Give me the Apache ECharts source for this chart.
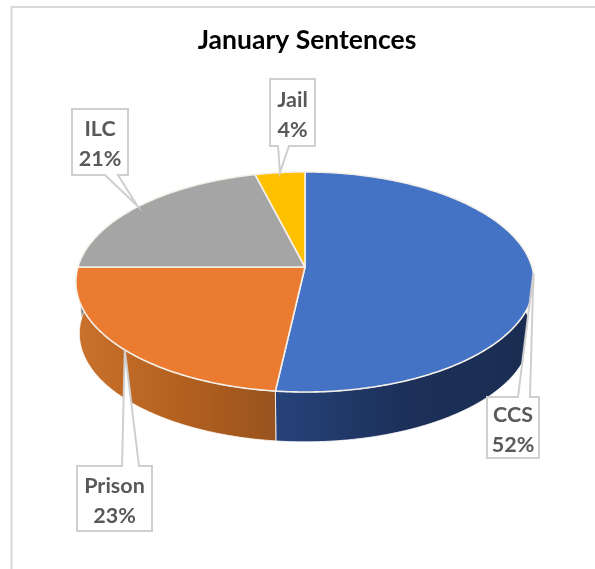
<!DOCTYPE html>
<html><head><meta charset="utf-8">
<style>html,body{margin:0;padding:0;background:#fff}#c{width:595px;height:569px}</style>
<script src="https://cdn.jsdelivr.net/npm/echarts@6/dist/echarts.min.js"></script>
</head><body><div id="c"></div>
<script>
const categories = ['CCS', 'Prison', 'ILC', 'Jail'];
const values = [51.8, 23.2, 21, 4];
const titleText = 'January Sentences';
const topColors = ['#4472C4', '#EB7B30', '#A5A5A5', '#FFC000'];
const wallColors = [
  ['#27437a', '#1c3059', '#1a2c50'],
  ['#c9722c', '#b5611f', '#98531e'],
  ['#7c7c7c', '#7c7c7c', '#7c7c7c'],
  ['#bf9000', '#bf9000', '#bf9000']
];
// callout layout: box [x0,y0,x1,y1], side of the pointer, pointer base [a,b], tip nudge
const callouts = [
  { box: [487, 397, 539, 458], side: 'top', base: [518, 530], nudge: [0, 0] },
  { box: [77, 466, 152, 531], side: 'top', base: [122, 139], nudge: [6, 4] },
  { box: [72, 109, 128, 175], side: 'bottom', base: [105, 118], nudge: [-2, 0] },
  { box: [270, 79, 315, 146], side: 'bottom', base: [278, 289], nudge: [0, 0] }
];
// projected pie geometry
const apex = [305, 267], R = 227, tilt = 108, persp = 0.136;
const depth = 52, bottomScale = 0.985;
const total = values.reduce((a, b) => a + b, 0);

function project(theta, scale, dy) {
  const x = Math.sin(theta) * scale, y = Math.cos(theta) * scale;
  const w = 1 + persp * y;
  return [apex[0] + x * R / w, apex[1] + dy - tilt * y / w];
}
function range(i) {
  let before = 0;
  for (let k = 0; k < i; k++) before += values[k];
  return [before / total * 2 * Math.PI, (before + values[i]) / total * 2 * Math.PI];
}
function arc(a0, a1, scale, dy) {
  const n = Math.max(2, Math.ceil((a1 - a0) / 0.01)), pts = [];
  for (let k = 0; k <= n; k++) pts.push(project(a0 + (a1 - a0) * k / n, scale, dy));
  return pts;
}
const rows = categories.map((c, i) => ({ name: c, value: values[i] }));

function renderWall(params, api) {
  const i = params.dataIndex;
  let [a0, a1] = range(i);
  // only the part of the rim that faces the viewer
  a0 = Math.max(a0, Math.PI * 0.44);
  a1 = Math.min(a1, Math.PI * 1.56);
  if (a1 <= a0) return { type: 'group', children: [] };
  const top = arc(a0, a1, 1, 0);
  const bot = arc(a0, a1, bottomScale, depth).reverse();
  const c = wallColors[i];
  return {
    type: 'polygon',
    shape: { points: top.concat(bot) },
    style: {
      fill: { type: 'linear', x: 0, y: 0, x2: 1, y2: 0, global: false,
        colorStops: [{ offset: 0, color: c[0] }, { offset: 0.5, color: c[1] }, { offset: 1, color: c[2] }] },
      stroke: '#ffffff', lineWidth: 0.8
    }
  };
}
function renderTop(params, api) {
  const i = params.dataIndex;
  const [a0, a1] = range(i);
  return {
    type: 'polygon',
    shape: { points: [apex].concat(arc(a0, a1, 1, 0)) },
    style: { fill: topColors[i], stroke: '#f4efe8', lineWidth: 1.6, lineJoin: 'round' }
  };
}
function renderCallout(params, api) {
  const i = params.dataIndex;
  const [a0, a1] = range(i);
  const co = callouts[i];
  const p = project((a0 + a1) / 2, 1, 0);
  const tip = [p[0] + co.nudge[0], p[1] + co.nudge[1]];
  const [x0, y0, x1, y1] = co.box, [b0, b1] = co.base;
  const pts = co.side === 'top'
    ? [[x0, y0], [b0, y0], tip, [b1, y0], [x1, y0], [x1, y1], [x0, y1]]
    : [[x0, y0], [x1, y0], [x1, y1], [b1, y1], tip, [b0, y1], [x0, y1]];
  const pct = Math.round(api.value(0) / total * 100) + '%';
  return {
    type: 'group',
    children: [
      { type: 'polygon', shape: { points: pts },
        style: { fill: '#ffffff', stroke: '#cfcfcf', lineWidth: 2 } },
      { type: 'text',
        style: { x: (x0 + x1) / 2, y: (y0 + y1) / 2 + 2.5, text: categories[i] + '\n' + pct,
          align: 'center', verticalAlign: 'middle', lineHeight: 30,
          font: '700 21.5px Lato, "Open Sans", sans-serif', fill: '#595959' } }
    ]
  };
}
const chart = echarts.init(document.getElementById('c'), null, { renderer: 'canvas' });
const base = { type: 'custom', coordinateSystem: 'none', silent: true, animation: false,
  clip: false, encode: { value: 0 } };
chart.setOption({
  animation: false,
  backgroundColor: '#ffffff',
  title: {
    text: titleText, left: 302, top: 22, textAlign: 'center',
    textStyle: { color: '#000000', fontFamily: 'Lato, "Open Sans", sans-serif', fontWeight: 700, fontSize: 26.5 }
  },
  graphic: [{
    type: 'polyline', silent: true, z: 0,
    shape: { points: [[11.5, 569], [11.5, 7], [595, 7]] },
    style: { stroke: '#d9d9d9', lineWidth: 2, fill: null }
  }],
  series: [
    Object.assign({}, base, { name: 'rim', z: 2, data: rows.map(r => r.value), renderItem: renderWall }),
    Object.assign({}, base, { name: 'top', z: 3, data: rows.map(r => r.value), renderItem: renderTop }),
    Object.assign({}, base, { name: 'labels', z: 4, data: rows.map(r => r.value), renderItem: renderCallout })
  ]
});
</script></body></html>
